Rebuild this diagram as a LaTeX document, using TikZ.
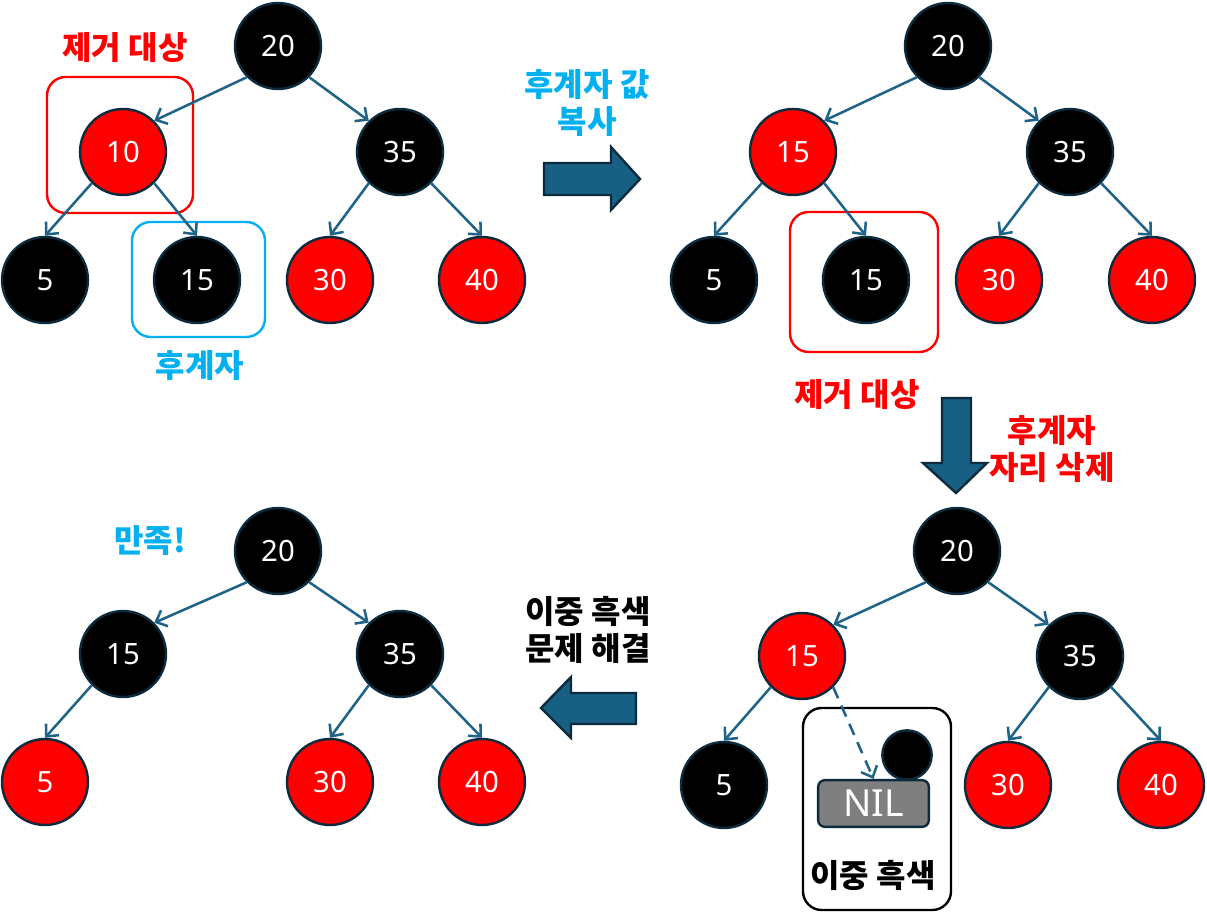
\documentclass[tikz,border=0pt]{standalone}
\usepackage{fontspec}
\setmainfont{Noto Sans}
\newfontfamily\kr{Noto Sans CJK KR}
\usetikzlibrary{arrows.meta}
\definecolor{edgec}{HTML}{1F6388}
\definecolor{navy}{HTML}{0D2B3E}
\definecolor{arrfill}{HTML}{175F83}
\definecolor{skyb}{HTML}{00B0F0}
\definecolor{nilg}{HTML}{7F7F7F}
\tikzset{
  bn/.style={circle, draw=navy, line width=1.8pt, fill=black, text=white, minimum size=64.5pt, inner sep=0pt, font=\fontsize{22}{26}\selectfont},
  rn/.style={bn, fill=red},
  ed/.style={draw=edgec, line width=1.9pt, -{Straight Barb[length=7pt,width=13pt,line width=1.9pt]}},
  lbl/.style={font=\kr\bfseries\fontsize{24}{28}\selectfont, align=center},
  hbox/.style={draw=#1, line width=1.8pt, rounded corners=14pt, inner sep=0pt},
  blockarrow/.style={fill=arrfill, draw=navy, line width=1.8pt, line join=miter},
}
\begin{document}
\begin{tikzpicture}[x=0.75pt,y=-0.75pt]
\useasboundingbox (0,0) rectangle (1207,912);

% ---------- highlight boxes ----------
\node[hbox=red, minimum width=109.5pt, minimum height=102pt] (boxA) at (120,145) {};
\node[hbox=skyb, minimum width=99.75pt, minimum height=86.25pt] (boxB) at (198.5,279.5) {};
\node[hbox=red, minimum width=111pt, minimum height=105pt] (boxC) at (864,282) {};
\node[hbox=black, minimum width=111pt, minimum height=151.5pt] (boxD) at (877,809) {};

% ---------- tree 1 (top left) ----------
\node[bn] (a20) at (278,46) {20};
\node[rn] (a10) at (123,152) {10};
\node[bn] (a35) at (400,152) {35};
\node[bn] (a5) at (45,280) {5};
\node[bn] (a15) at (197,280) {15};
\node[rn] (a30) at (330,280) {30};
\node[rn] (a40) at (482,280) {40};
\draw[ed] (a20.south west) -- (a10.north east);
\draw[ed] (a20.south east) -- (a35.north west);
\draw[ed] (a10.south west) -- (a5.north);
\draw[ed] (a10.south east) -- (a15.north);
\draw[ed] (a35.south west) -- (a30.north);
\draw[ed] (a35.south east) -- (a40.north);

% ---------- tree 2 (top right) ----------
\node[bn] (b20) at (948,46) {20};
\node[rn] (b15) at (793,152) {15};
\node[bn] (b35) at (1070,152) {35};
\node[bn] (b5) at (714,280) {5};
\node[bn] (b15s) at (866,280) {15};
\node[rn] (b30) at (999,280) {30};
\node[rn] (b40) at (1152,280) {40};
\draw[ed] (b20.south west) -- (b15.north east);
\draw[ed] (b20.south east) -- (b35.north west);
\draw[ed] (b15.south west) -- (b5.north);
\draw[ed] (b15.south east) -- (b15s.north);
\draw[ed] (b35.south west) -- (b30.north);
\draw[ed] (b35.south east) -- (b40.north);

% ---------- tree 3 (bottom right) ----------
\node[bn] (c20) at (957,551) {20};
\node[rn] (c15) at (802,656) {15};
\node[bn] (c35) at (1080,656) {35};
\node[bn] (c5) at (724,785) {5};
\node[rn] (c30) at (1008,785) {30};
\node[rn] (c40) at (1161,785) {40};
\node[draw=navy, line width=1.8pt, fill=nilg, text=white, rounded corners=5pt, minimum width=83pt, minimum height=35pt, inner sep=0pt, font=\fontsize{28}{30}\selectfont] (nil) at (873.5,803.5) {NIL};
\node[circle, draw=navy, line width=1.8pt, fill=black, minimum size=37pt, inner sep=0pt] (dbl) at (907,755) {};
\draw[ed] (c20.south west) -- (c15.north east);
\draw[ed] (c20.south east) -- (c35.north west);
\draw[ed] (c15.south west) -- (c5.north);
\draw[ed, dashed, dash pattern=on 9pt off 6pt] (c15.south east) -- (nil.north);
\draw[ed] (c35.south west) -- (c30.north);
\draw[ed] (c35.south east) -- (c40.north);

% ---------- tree 4 (bottom left) ----------
\node[bn] (d20) at (278,551) {20};
\node[bn] (d15) at (123,654) {15};
\node[bn] (d35) at (400,654) {35};
\node[rn] (d5) at (45,782) {5};
\node[rn] (d30) at (330,782) {30};
\node[rn] (d40) at (482,782) {40};
\draw[ed] (d20.south west) -- (d15.north east);
\draw[ed] (d20.south east) -- (d35.north west);
\draw[ed] (d15.south west) -- (d5.north);
\draw[ed] (d35.south west) -- (d30.north);
\draw[ed] (d35.south east) -- (d40.north);

% ---------- block arrows ----------
\draw[blockarrow] (544,163) -- (611,163) -- (611,147) -- (640,179) -- (611,210) -- (611,195) -- (544,195) -- cycle;
\draw[blockarrow] (942,398) -- (971,398) -- (971,463) -- (987,463) -- (956,493) -- (923,463) -- (942,463) -- cycle;
\draw[blockarrow] (541,708) -- (571,677) -- (571,693) -- (636,693) -- (636,724) -- (571,724) -- (571,738) -- cycle;

% ---------- labels ----------
\node[lbl, text=red] (t1) at (125,48) {제거 대상};
\node[lbl, text=skyb] (t2) at (200,366) {후계자};
\node[lbl, text=skyb] (t3) at (587,103) {후계자 값\\복사};
\node[lbl, text=red] (t4) at (857,395) {제거 대상};
\node[lbl, text=red] (t5) at (1052,449) {후계자\\자리 삭제};
\node[lbl, text=black] (t6) at (588,630) {이중 흑색\\문제 해결};
\node[lbl, text=black] (t7) at (873,875) {이중 흑색};
\node[lbl, text=skyb] (t8) at (150,541) {만족!};
\end{tikzpicture}
\end{document}
